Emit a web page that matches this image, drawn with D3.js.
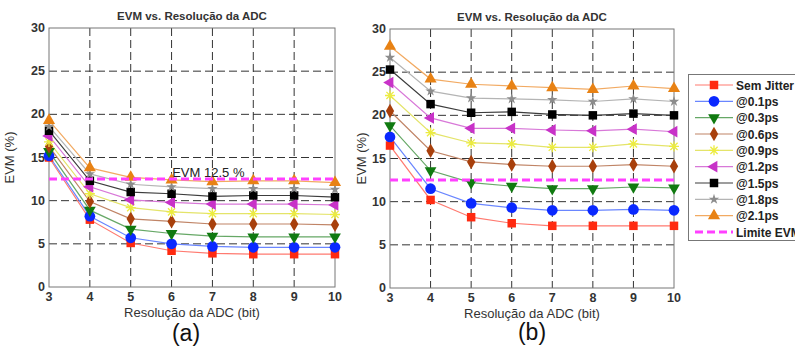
<!doctype html>
<html>
<head>
<meta charset="utf-8" />
<title>EVM vs. Resolução da ADC</title>
<script src="https://d3js.org/d3.v7.min.js"></script>
<style>
  body { margin: 0; background: #fff; }
  svg { font-family: "Liberation Sans", Arial, sans-serif; }
</style>
</head>
<body>
<svg id="chart" width="795" height="348"></svg>
<script>
// x values (ADC bits)
var bits = [3, 4, 5, 6, 7, 8, 9, 10];
var yTicks = [0, 5, 10, 15, 20, 25, 30];
var seriesLabels = ["Sem Jitter", "@0.1ps", "@0.3ps", "@0.6ps", "@0.9ps", "@1.2ps", "@1.5ps", "@1.8ps", "@2.1ps"];
var limitLabel = "Limite EVM";
var evmLimit = 12.5;

// panel (a)
var evmA = [
  [15.0, 7.8, 5.1, 4.2, 3.9, 3.8, 3.8, 3.8],
  [15.2, 8.2, 5.7, 5.0, 4.7, 4.6, 4.6, 4.6],
  [15.7, 8.9, 6.7, 6.2, 5.9, 5.8, 5.8, 5.8],
  [16.3, 9.9, 7.9, 7.6, 7.3, 7.3, 7.3, 7.2],
  [16.8, 10.8, 9.2, 8.7, 8.5, 8.5, 8.5, 8.4],
  [17.5, 11.6, 10.1, 9.8, 9.6, 9.6, 9.6, 9.5],
  [18.1, 12.3, 11.0, 10.8, 10.5, 10.6, 10.6, 10.4],
  [18.6, 13.1, 11.9, 11.6, 11.4, 11.4, 11.4, 11.3],
  [19.3, 13.8, 12.7, 12.4, 12.2, 12.3, 12.3, 12.1]
];

// panel (b)
var evmB = [
  [16.5, 10.2, 8.2, 7.5, 7.2, 7.2, 7.2, 7.2],
  [17.5, 11.5, 9.8, 9.3, 9.0, 9.0, 9.1, 9.0],
  [18.8, 13.6, 12.2, 11.8, 11.5, 11.5, 11.7, 11.6],
  [20.5, 15.9, 14.6, 14.3, 14.1, 14.1, 14.3, 14.1],
  [22.3, 18.0, 16.8, 16.7, 16.3, 16.3, 16.7, 16.4],
  [23.8, 19.7, 18.5, 18.5, 18.3, 18.2, 18.4, 18.1],
  [25.3, 21.3, 20.3, 20.4, 20.1, 20.0, 20.2, 20.0],
  [26.7, 22.8, 22.0, 21.9, 21.8, 21.6, 21.9, 21.6],
  [28.0, 24.2, 23.6, 23.4, 23.2, 23.0, 23.4, 23.1]
];

var markerColors = ["#ff2a10", "#0a28ff", "#107a10", "#a8400c", "#ecec40", "#c832c8", "#000000", "#8c8c8c", "#e88214"];
var lineColors = ["#ff7a70", "#6a86ff", "#66a866", "#c08466", "#e4e46a", "#d878d8", "#3c3c3c", "#b4b4b4", "#f2aa62"];

// marker shapes
var asterisk = {
  draw: function (ctx, size) {
    var r = Math.sqrt(size) / 2, d = r * 0.72;
    ctx.moveTo(-r, 0); ctx.lineTo(r, 0);
    ctx.moveTo(0, -r); ctx.lineTo(0, r);
    ctx.moveTo(-d, -d); ctx.lineTo(d, d);
    ctx.moveTo(-d, d); ctx.lineTo(d, -d);
  }
};
var markers = [
  { type: d3.symbolSquare, size: 72, rot: 0 },
  { type: d3.symbolCircle, size: 90, rot: 0 },
  { type: d3.symbolTriangle, size: 60, rot: 180 },
  { type: d3.symbolDiamond, size: 60, rot: 0 },
  { type: asterisk, size: 100, rot: 0, stroke: true },
  { type: d3.symbolTriangle, size: 60, rot: -90 },
  { type: d3.symbolSquare, size: 72, rot: 0 },
  { type: d3.symbolStar, size: 34, rot: 0 },
  { type: d3.symbolTriangle, size: 64, rot: 0 }
];

var svg = d3.select("#chart");

function drawMarker(g, i, x, y) {
  var m = markers[i];
  var p = g.append("path")
    .attr("d", d3.symbol().type(m.type).size(m.size)())
    .attr("transform", "translate(" + x + "," + y + ") rotate(" + m.rot + ")");
  if (m.stroke) {
    p.attr("fill", "none").attr("stroke", markerColors[i]).attr("stroke-width", 1.3);
  } else {
    p.attr("fill", markerColors[i]);
  }
}

function panel(data, box, tag, note) {
  var left = box.left, right = box.right, top = box.top, bottom = box.bottom;
  var x = d3.scaleLinear().domain([3, 10]).range([left, right]);
  var y = d3.scaleLinear().domain([0, 30]).range([bottom, top]);
  var g = svg.append("g");

  // grid
  g.selectAll("line.vg").data(bits.slice(1, -1)).enter().append("line")
    .attr("x1", d => x(d)).attr("x2", d => x(d))
    .attr("y1", top).attr("y2", bottom)
    .attr("stroke", "#333").attr("stroke-dasharray", "8,4");
  g.selectAll("line.hg").data(yTicks.slice(1, -1)).enter().append("line")
    .attr("x1", left).attr("x2", right)
    .attr("y1", d => y(d)).attr("y2", d => y(d))
    .attr("stroke", "#333").attr("stroke-dasharray", "8,4");

  // frame
  g.append("rect").attr("x", left).attr("y", top)
    .attr("width", right - left).attr("height", bottom - top)
    .attr("fill", "none").attr("stroke", "#777");

  // tick labels
  g.selectAll("text.xt").data(bits).enter().append("text")
    .attr("x", d => x(d)).attr("y", bottom + 14)
    .attr("text-anchor", "middle").attr("font-size", 12.5).attr("font-weight", "bold")
    .attr("fill", "#333").text(d => d);
  g.selectAll("text.yt").data(yTicks).enter().append("text")
    .attr("x", left - 4).attr("y", d => y(d) + 4)
    .attr("text-anchor", "end").attr("font-size", 12.5).attr("font-weight", "bold")
    .attr("fill", "#333").text(d => d);

  // titles
  g.append("text").attr("x", (left + right) / 2).attr("y", top - 8)
    .attr("text-anchor", "middle").attr("font-size", 11.5).attr("font-weight", "bold")
    .attr("fill", "#333")
    .text("EVM vs. Resolução da ADC");
  g.append("text").attr("x", (left + right) / 2).attr("y", bottom + 30)
    .attr("text-anchor", "middle").attr("font-size", 13).attr("fill", "#333")
    .text("Resolução da ADC (bit)");
  g.append("text")
    .attr("transform", "translate(" + box.ylabX + "," + ((top + bottom) / 2) + ") rotate(-90)")
    .attr("text-anchor", "middle").attr("font-size", 13).attr("fill", "#333")
    .text("EVM (%)");
  g.append("text").attr("x", box.tagX).attr("y", box.tagY)
    .attr("text-anchor", "middle").attr("font-size", 23).attr("fill", "#111")
    .text(tag);

  // series
  var line = d3.line().x((d, j) => x(bits[j])).y(d => y(d));
  data.forEach(function (vals, i) {
    g.append("path").attr("d", line(vals)).attr("fill", "none")
      .attr("stroke", lineColors[i]).attr("stroke-width", 1.2);
  });
  data.forEach(function (vals, i) {
    vals.forEach(function (v, j) { drawMarker(g, i, x(bits[j]), y(v)); });
  });

  // limit
  g.append("line").attr("x1", x(3)).attr("x2", x(10))
    .attr("y1", y(evmLimit)).attr("y2", y(evmLimit))
    .attr("stroke", "#ff40ff").attr("stroke-width", 3).attr("stroke-dasharray", "8,4");
  if (note) {
    g.append("text").attr("x", x(6.9)).attr("y", y(12.75))
      .attr("text-anchor", "middle").attr("font-size", 13).attr("fill", "#222")
      .text(note);
  }
}

panel(evmA, { left: 49, right: 335, top: 28, bottom: 287, ylabX: 14, tagX: 186, tagY: 341 }, "(a)", "EVM 12.5 %");
panel(evmB, { left: 390, right: 674, top: 29, bottom: 288, ylabX: 366, tagX: 532, tagY: 340 }, "(b)", null);

// legend
var lg = svg.append("g");
lg.append("rect").attr("x", 688.5).attr("y", 74.5).attr("width", 120).attr("height", 166)
  .attr("fill", "#fff").attr("stroke", "#777");
var rowY = d3.scalePoint().domain(d3.range(seriesLabels.length + 1)).range([85, 232]);
seriesLabels.forEach(function (name, i) {
  var yy = rowY(i);
  lg.append("line").attr("x1", 695).attr("x2", 733).attr("y1", yy).attr("y2", yy)
    .attr("stroke", lineColors[i]).attr("stroke-width", 1.2);
  drawMarker(lg, i, 714, yy);
  lg.append("text").attr("x", 736).attr("y", yy + 4.5)
    .attr("font-size", 12).attr("font-weight", "bold").attr("fill", "#222").text(name);
});
var ly = rowY(seriesLabels.length);
lg.append("line").attr("x1", 695).attr("x2", 733).attr("y1", ly).attr("y2", ly)
  .attr("stroke", "#ff40ff").attr("stroke-width", 3).attr("stroke-dasharray", "8,4");
lg.append("text").attr("x", 736).attr("y", ly + 4.5)
  .attr("font-size", 12).attr("font-weight", "bold").attr("fill", "#222").text(limitLabel);
</script>
</body>
</html>
